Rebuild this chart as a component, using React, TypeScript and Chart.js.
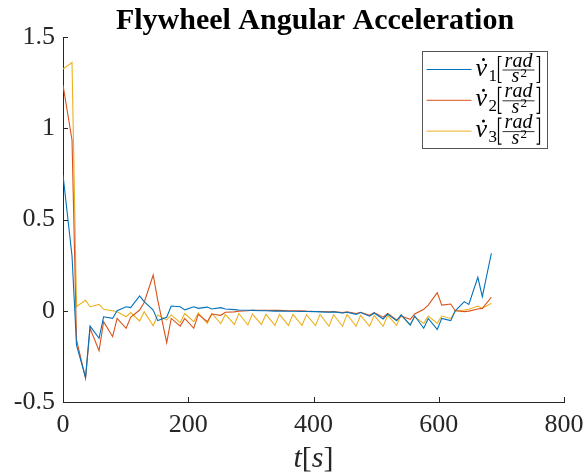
import React, { useEffect, useRef } from "react";
import { Chart, registerables } from "chart.js";

Chart.register(...registerables);

// Sample times [s]
const timeS = [
  0, 14.4, 21.6, 36, 43.2, 57.6, 64.8, 79.2, 86.4, 100.8, 108, 122.4, 129.6, 144, 151.2, 165.6,
  172.8, 187.2, 194.4, 208.8, 216, 230.4, 237.6, 252, 259.2, 273.6, 280.8, 295.2, 302.4, 316.8, 324, 338.4,
  345.6, 360, 367.2, 381.6, 388.8, 403.2, 410.4, 424.8, 432, 446.4, 453.6, 468, 475.2, 489.6, 496.8, 511.2,
  518.4, 532.8, 540, 554.4, 561.6, 576, 583.2, 597.6, 604.8, 619.2, 626.4, 640.8, 648, 662.4, 669.6, 684,
];

// Flywheel angular accelerations [rad/s^2]
const nu1 = [
  0.744, 0.3, -0.188, -0.365, -0.084, -0.151, -0.033, -0.042, 0.0, 0.022, 0.017, 0.081, 0.05, 0.004, -0.054, -0.036,
  0.026, 0.022, 0.005, 0.022, 0.013, 0.02, 0.01, 0.017, 0.01, 0.006, 0.004, 0.003, 0.002, 0.0, 0.0, -0.002,
  -0.002, -0.003, -0.003, -0.004, -0.004, -0.005, -0.006, -0.008, -0.006, -0.012, -0.008, -0.02, -0.01, -0.03, -0.012, -0.045,
  -0.018, -0.055, -0.023, -0.078, -0.029, -0.096, -0.042, -0.102, -0.042, -0.054, 0.0, 0.05, 0.035, 0.183, 0.077, 0.315,
];

const nu2 = [
  1.237, 0.936, -0.16, -0.37, -0.096, -0.219, -0.06, -0.142, -0.042, -0.096, -0.036, 0.004, 0.045, 0.196, 0.06, -0.175,
  -0.042, -0.084, -0.042, -0.096, -0.02, -0.06, -0.018, -0.025, -0.008, -0.006, -0.002, 0.0, 0.003, 0.003, 0.003, 0.002,
  0.002, 0.0, 0.0, 0.0, -0.002, -0.004, -0.004, -0.006, -0.004, -0.01, -0.006, -0.015, -0.008, -0.025, -0.01, -0.035,
  -0.015, -0.05, -0.029, -0.047, -0.018, 0.008, 0.031, 0.099, 0.031, 0.037, 0.0, -0.005, -0.002, 0.01, 0.013, 0.074,
];

const nu3 = [
  1.325, 1.36, 0.024, 0.057, 0.022, 0.035, 0.008, 0.0, -0.005, -0.033, -0.01, -0.056, -0.005, -0.082, -0.023, -0.05,
  -0.023, -0.065, -0.015, -0.06, -0.012, -0.07, -0.015, -0.07, -0.02, -0.075, -0.015, -0.078, -0.018, -0.075, -0.02, -0.08,
  -0.02, -0.08, -0.02, -0.08, -0.022, -0.082, -0.02, -0.085, -0.022, -0.085, -0.02, -0.085, -0.025, -0.085, -0.025, -0.085,
  -0.025, -0.08, -0.023, -0.078, -0.033, -0.069, -0.029, -0.069, -0.029, -0.042, 0.0, 0.004, 0.008, 0.026, 0.013, 0.041,
];

const xTicks = [0, 200, 400, 600, 800];
const yTicks = [-0.5, 0, 0.5, 1, 1.5];
const seriesNames = ["nu1", "nu2", "nu3"];
const seriesSubs = ["1", "2", "3"];
const seriesColors = ["#0072BD", "#D95319", "#EDB120"];
const titleText = "Flywheel Angular Acceleration";

const SERIF = '"Liberation Serif", "Times New Roman", serif';
const AXIS = "#262626";

const toPoints = (ys: number[]) => ys.map((y, i) => ({ x: timeS[i], y }));

const decorations = {
  id: "decorations",
  afterDatasetsDraw(chart: any) {
    const { ctx, chartArea: ca, scales } = chart;
    ctx.save();

    // inward tick marks
    ctx.strokeStyle = AXIS;
    ctx.lineWidth = 1;
    ctx.beginPath();
    for (const v of xTicks) {
      const px = Math.round(scales.x.getPixelForValue(v)) + 0.5;
      ctx.moveTo(px, ca.bottom);
      ctx.lineTo(px, ca.bottom - 5);
    }
    for (const v of yTicks) {
      const py = Math.round(scales.y.getPixelForValue(v)) + 0.5;
      ctx.moveTo(ca.left, py);
      ctx.lineTo(ca.left + 5, py);
    }
    ctx.stroke();

    // title
    ctx.fillStyle = "#000";
    ctx.font = `bold 30px ${SERIF}`;
    ctx.textAlign = "center";
    ctx.textBaseline = "alphabetic";
    ctx.fillText(titleText, 315, 29);

    // x-axis label: t[s]
    ctx.fillStyle = AXIS;
    const cx = (ca.left + ca.right) / 2;
    const base = 467;
    const fI = `italic 30px ${SERIF}`;
    const fU = `30px ${SERIF}`;
    const parts: [string, string][] = [["t", fI], ["[", fU], ["s", fI], ["]", fU]];
    let total = 0;
    for (const [s, f] of parts) { ctx.font = f; total += ctx.measureText(s).width; }
    let x = cx - total / 2;
    ctx.textAlign = "left";
    for (const [s, f] of parts) { ctx.font = f; ctx.fillText(s, x, base); x += ctx.measureText(s).width; }

    // legend
    const lx = Math.round(ca.right - 142) + 0.5;
    const ly = Math.round(ca.top + 14) + 0.5;
    const lw = 125, lh = 97;
    ctx.fillStyle = "#fff";
    ctx.fillRect(lx, ly, lw, lh);
    ctx.strokeStyle = "#555";
    ctx.lineWidth = 1;
    ctx.strokeRect(lx, ly, lw, lh);

    for (let i = 0; i < seriesNames.length; i++) {
      const ry = ly + 18 + i * 30.8;
      ctx.strokeStyle = seriesColors[i];
      ctx.lineWidth = 1;
      ctx.beginPath();
      ctx.moveTo(lx + 4, ry);
      ctx.lineTo(lx + 49, ry);
      ctx.stroke();

      ctx.fillStyle = "#000";
      ctx.textAlign = "left";
      ctx.font = `italic 26px ${SERIF}`;
      ctx.fillText("\u03bd", lx + 53, ry + 6);
      // dot above nu
      ctx.beginPath();
      ctx.arc(lx + 61, ry - 10, 1.5, 0, Math.PI * 2);
      ctx.fill();
      ctx.font = `17px ${SERIF}`;
      ctx.fillText(seriesSubs[i], lx + 66, ry + 11);

      // brackets
      ctx.strokeStyle = "#000";
      ctx.lineWidth = 1.2;
      ctx.beginPath();
      ctx.moveTo(lx + 79, ry - 13);
      ctx.lineTo(lx + 76, ry - 13);
      ctx.lineTo(lx + 76, ry + 13);
      ctx.lineTo(lx + 79, ry + 13);
      ctx.moveTo(lx + 114, ry - 13);
      ctx.lineTo(lx + 117, ry - 13);
      ctx.lineTo(lx + 117, ry + 13);
      ctx.lineTo(lx + 114, ry + 13);
      ctx.stroke();

      // fraction rad / s^2
      ctx.lineWidth = 0.8;
      ctx.beginPath();
      ctx.moveTo(lx + 80, ry + 0.5);
      ctx.lineTo(lx + 112, ry + 0.5);
      ctx.stroke();
      ctx.font = `italic 20px ${SERIF}`;
      ctx.textAlign = "center";
      ctx.fillText("rad", lx + 96, ry - 3);
      ctx.textAlign = "left";
      ctx.fillText("s", lx + 89, ry + 12.5);
      ctx.font = `13px ${SERIF}`;
      ctx.fillText("2", lx + 98, ry + 7);
    }

    ctx.restore();
  },
};

export default function App() {
  const canvasRef = useRef<HTMLCanvasElement | null>(null);

  useEffect(() => {
    if (!canvasRef.current) return;
    const series = [nu1, nu2, nu3];
    const chart = new Chart(canvasRef.current, {
      type: "line",
      data: {
        datasets: series.map((ys, i) => ({
          label: seriesNames[i],
          data: toPoints(ys),
          borderColor: seriesColors[i],
          backgroundColor: seriesColors[i],
          borderWidth: 1.1,
          pointRadius: 0,
          tension: 0,
          fill: false,
        })),
      },
      options: {
        responsive: false,
        animation: false,
        devicePixelRatio: 1,
        layout: { padding: { left: 0, right: 19, top: 37, bottom: 0 } },
        plugins: {
          legend: { display: false },
          title: { display: false },
          tooltip: { enabled: false },
        },
        scales: {
          x: {
            type: "linear",
            min: 0,
            max: 800,
            afterBuildTicks: (s: any) => { s.ticks = xTicks.map((v) => ({ value: v })); },
            afterFit: (s: any) => { s.height = 73; s.paddingLeft = 0; s.paddingRight = 0; },
            grid: { display: false, drawTicks: false },
            border: { display: true, color: AXIS, width: 1 },
            ticks: {
              font: { family: SERIF, size: 26 },
              color: AXIS,
              padding: 8,
              maxRotation: 0,
            },
          },
          y: {
            type: "linear",
            min: -0.5,
            max: 1.5,
            afterBuildTicks: (s: any) => { s.ticks = yTicks.map((v) => ({ value: v })); },
            afterFit: (s: any) => { s.width = 63; s.paddingTop = 0; s.paddingBottom = 0; },
            grid: { display: false, drawTicks: false },
            border: { display: true, color: AXIS, width: 1 },
            ticks: {
              font: { family: SERIF, size: 26 },
              color: AXIS,
              padding: 8,
              callback: (v: any) => String(v),
            },
          },
        },
      },
      plugins: [decorations],
    });
    return () => chart.destroy();
  }, []);

  return (
    <div style={{ position: "absolute", left: 0, top: 0, width: 583, height: 475, background: "#fff" }}>
      <canvas ref={canvasRef} width={583} height={475} style={{ display: "block" }} />
    </div>
  );
}
